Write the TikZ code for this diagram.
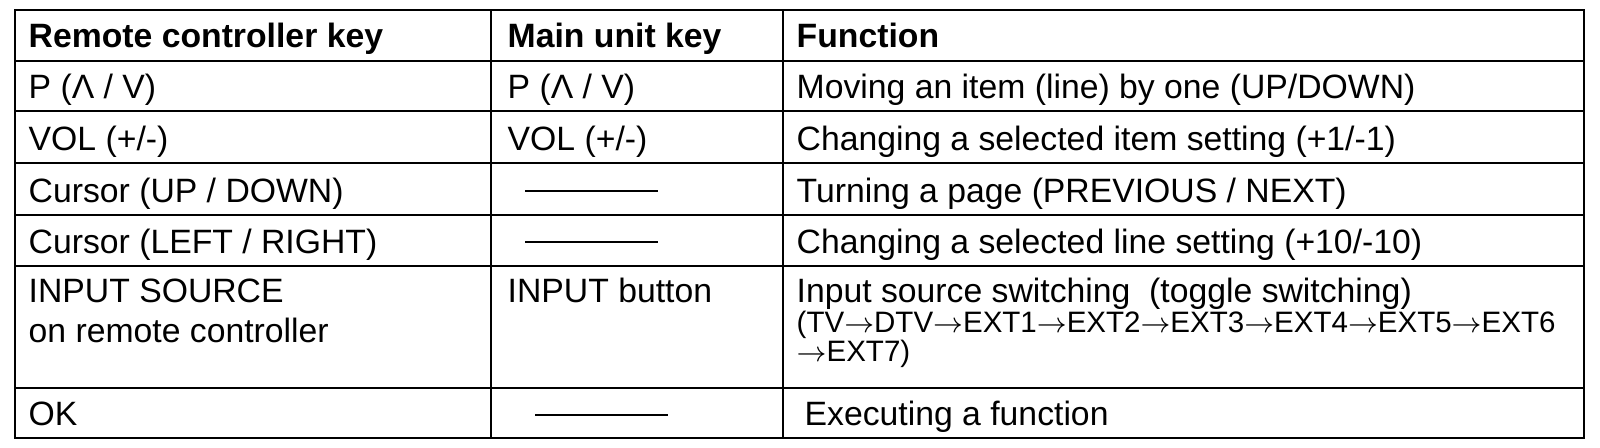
\documentclass[tikz,border=0pt]{standalone}
\usepackage{fontspec}
\setmainfont{Liberation Sans}
\newcommand{\nextsrc}{$\rightarrow$}
\begin{document}
\begin{tikzpicture}[
  cell/.style={anchor=base west, inner sep=0pt, font=\fontsize{9.6}{11}\selectfont},
  head/.style={cell, font=\fontsize{9.6}{11}\selectfont\bfseries},
  smallcell/.style={cell, font=\fontsize{8.4}{10}\selectfont},
  rule/.style={line width=0.8pt, color=black},
  nokey/.style={line width=0.7pt, color=black}]
\useasboundingbox (0,0) rectangle (16,4.47);

% frame and grid
\draw[rule] (0.15,0.09) rectangle (15.84,4.37);
\draw[rule] (4.91,0.09) -- (4.91,4.37);
\draw[rule] (7.83,0.09) -- (7.83,4.37);
\foreach \y in {3.86,3.36,2.84,2.32,1.81,0.59}
  \draw[rule] (0.15,\y) -- (15.84,\y);

% header
\node[head] (hrk) at (0.28,4.00) {Remote controller key};
\node[head] (hmk) at (5.07,4.00) {Main unit key};
\node[head] (hfn) at (7.96,4.00) {Function};

% remote controller key
\node[cell] (rk1) at (0.28,3.49) {P (Λ / V)};
\node[cell] (rk2) at (0.28,2.97) {VOL (+/-)};
\node[cell] (rk3) at (0.28,2.45) {Cursor (UP / DOWN)};
\node[cell] (rk4) at (0.28,1.94) {Cursor (LEFT / RIGHT)};
\node[cell] (rk5) at (0.28,1.45) {INPUT SOURCE};
\node[cell] (rk5b) at (0.28,1.05) {on remote controller};
\node[cell] (rk6) at (0.28,0.22) {OK};

% main unit key
\node[cell] (mk1) at (5.07,3.49) {P (Λ / V)};
\node[cell] (mk2) at (5.07,2.97) {VOL (+/-)};
\draw[nokey] (5.25,2.56) -- (6.58,2.56);
\draw[nokey] (5.25,2.05) -- (6.58,2.05);
\node[cell] (mk5) at (5.07,1.45) {INPUT button};
\draw[nokey] (5.35,0.32) -- (6.68,0.32);

% function
\node[cell] (fn1) at (7.96,3.49) {Moving an item (line) by one (UP/DOWN)};
\node[cell] (fn2) at (7.96,2.97) {Changing a selected item setting (+1/-1)};
\node[cell] (fn3) at (7.96,2.45) {Turning a page (PREVIOUS / NEXT)};
\node[cell] (fn4) at (7.96,1.94) {Changing a selected line setting (+10/-10)};
\node[cell] (fn5) at (7.96,1.45) {Input source switching~ (toggle switching)};
\node[smallcell] (fn5b) at (7.96,1.15) {(TV\nextsrc DTV\nextsrc EXT1\nextsrc EXT2\nextsrc EXT3\nextsrc EXT4\nextsrc EXT5\nextsrc EXT6};
\node[smallcell] (fn5c) at (7.96,0.86) {\nextsrc EXT7)};
\node[cell] (fn6) at (8.04,0.22) {Executing a function};

\end{tikzpicture}
\end{document}
